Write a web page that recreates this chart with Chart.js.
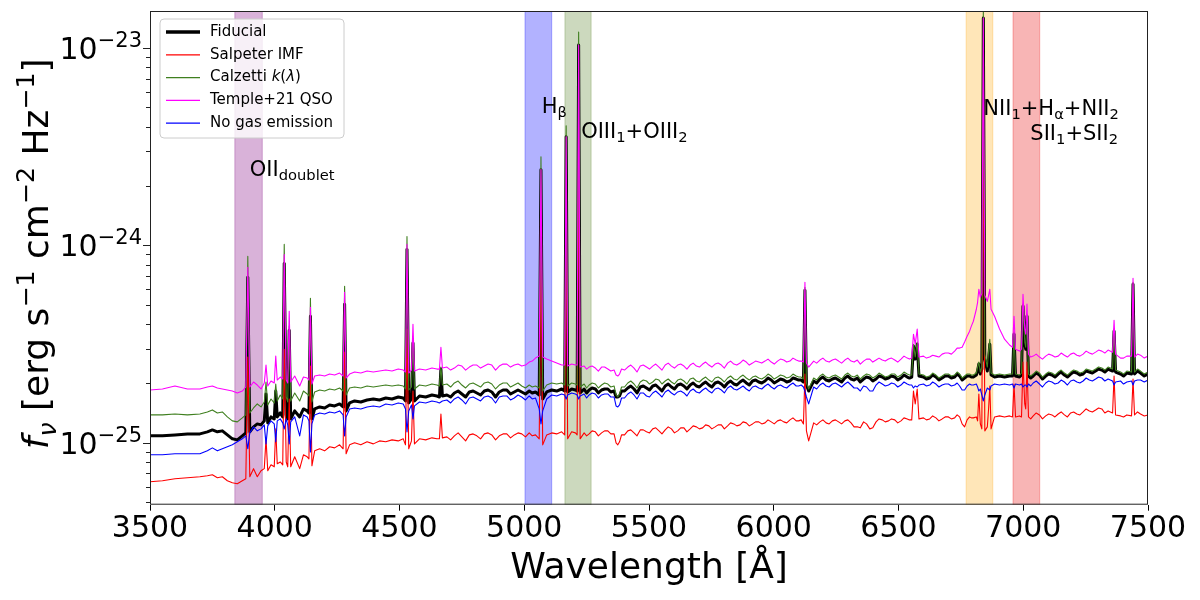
<!DOCTYPE html>
<html>
<head>
<meta charset="utf-8">
<script src="https://cdn.jsdelivr.net/npm/chart.js@4.4.0/dist/chart.umd.min.js"></script>
<style>
  body { margin: 0; background: #fff; }
  #wrap { width: 1200px; height: 600px; }
</style>
</head>
<body>
<div id="wrap"><canvas id="spec" width="1200" height="600"></canvas></div>
<script>
// wavelength grid [Angstrom], shared by every spectrum
const wave = [
  3500,3550,3600,3650,3700,3730,3750,3770,3790,3810,
  3830,3850,3870,3884,3892,3900,3915,3930,3945,3958,
  3965,3972,3985,3998,4004,4010,4022,4032,4038,4046,
  4052,4058,4064,4080,4100,4115,4130,4137,4143,4149,
  4160,4180,4200,4220,4240,4260,4274,4280,4286,4300,
  4320,4345,4370,4395,4420,4445,4470,4495,4515,4524,
  4530,4537,4548,4554,4560,4580,4605,4630,4650,4660,
  4666,4672,4690,4720,4750,4780,4810,4840,4870,4900,
  4930,4960,4990,5020,5045,5060,5067,5074,5090,5110,
  5130,5150,5162,5168,5174,5190,5205,5212,5218,5224,
  5240,5260,5285,5310,5335,5360,5375,5390,5415,5440,
  5465,5490,5515,5540,5565,5590,5615,5640,5665,5690,
  5715,5740,5765,5790,5815,5840,5865,5890,5915,5940,
  5965,5990,6015,6040,6065,6090,6110,6119,6125,6131,
  6140,6160,6185,6210,6235,6260,6285,6310,6335,6360,
  6385,6410,6435,6460,6485,6510,6535,6553,6560,6567,
  6575,6582,6600,6625,6650,6675,6700,6725,6745,6765,
  6785,6800,6812,6817,6822,6828,6834,6840,6846,6856,
  6861,6866,6871,6885,6905,6925,6945,6957,6963,6969,
  6985,6993,6999,7006,7010,7015,7021,7040,7065,7090,
  7115,7140,7165,7190,7215,7240,7265,7290,7315,7340,
  7358,7364,7370,7390,7415,7434,7440,7446,7470,7500
];

// f_nu in units of 1e-25 erg s^-1 cm^-2 Hz^-1
const fiducial = [
  1.085,1.085,1.097,1.11,1.11,1.137,1.163,1.137,1.15,1.097,
  1.048,1.035,1.085,1.123,6.89,1.137,1.205,1.247,1.233,1.292,
  1.768,1.262,1.353,1.322,1.83,1.353,1.417,1.353,8.11,1.385,
  1.322,3.72,1.322,1.451,1.353,1.485,1.451,1.417,4.38,1.322,
  1.485,1.52,1.502,1.556,1.538,1.574,1.52,5.04,1.451,1.592,
  1.63,1.611,1.649,1.668,1.649,1.687,1.668,1.707,1.687,1.63,
  9.55,1.592,1.668,3.2,1.63,1.727,1.707,1.748,1.727,1.707,
  2.364,1.727,1.748,1.789,1.768,1.81,1.789,1.83,1.81,1.81,
  1.852,1.81,1.81,1.83,1.81,1.748,24.2,1.668,1.81,1.852,
  1.83,1.874,1.83,35.5,1.81,1.874,1.852,1.83,103.6,1.789,
  1.874,1.852,1.874,1.852,1.874,1.83,1.707,1.83,1.896,1.874,
  1.918,1.896,1.941,1.896,1.941,1.918,1.963,1.941,1.963,1.941,
  1.986,1.963,2.01,1.986,2.01,1.986,2.033,2.01,2.057,2.033,
  2.057,2.08,2.057,2.08,2.057,2.105,2.08,2.033,5.93,1.963,
  1.83,2.057,2.105,2.08,2.105,2.08,2.13,2.105,2.13,2.105,
  2.13,2.105,2.154,2.13,2.154,2.13,2.154,2.154,3.09,2.656,
  3.16,2.18,2.154,2.13,2.154,2.13,2.18,2.154,2.18,2.13,
  2.18,2.154,2.205,2.31,2.506,2.231,2.364,141.8,2.656,2.31,
  2.656,3.16,2.205,2.154,2.18,2.154,2.18,2.18,3.55,2.18,
  2.154,2.205,4.92,3.16,2.98,4.38,2.18,2.18,2.205,2.18,
  2.205,2.231,2.205,2.231,2.257,2.231,2.284,2.31,2.337,2.364,
  2.31,3.68,2.284,2.231,2.257,2.231,6.35,2.231,2.257,2.231
];

const salpeter = [
  0.635,0.643,0.658,0.666,0.673,0.681,0.689,0.666,0.673,0.643,
  0.628,0.621,0.643,0.658,2.72,0.673,0.74,0.673,0.722,0.74,
  1.048,0.722,0.774,0.756,1.177,0.783,0.80,0.774,2.98,0.80,
  0.756,1.668,0.756,0.85,0.74,0.87,0.85,0.83,2.448,0.765,
  0.911,0.933,0.911,0.955,0.943,0.977,0.933,2.88,0.88,0.977,
  1.0,0.977,1.012,0.988,1.023,1.012,1.035,1.023,1.048,0.977,
  3.77,0.933,1.023,1.83,0.988,1.048,1.035,1.06,1.048,1.048,
  1.40,1.06,1.072,1.085,1.072,1.097,1.085,1.11,1.097,1.085,
  1.11,1.097,1.11,1.123,1.097,1.048,9.55,0.977,1.097,1.123,
  1.11,1.137,1.097,14.3,1.048,1.137,1.123,1.097,40.8,1.048,
  1.123,1.11,1.137,1.123,1.15,1.11,0.977,1.097,1.15,1.123,
  1.163,1.137,1.177,1.15,1.163,1.177,1.15,1.191,1.177,1.205,
  1.191,1.219,1.205,1.233,1.219,1.247,1.233,1.262,1.247,1.277,
  1.262,1.277,1.292,1.277,1.307,1.292,1.307,1.247,2.231,1.15,
  1.023,1.262,1.277,1.262,1.292,1.277,1.292,1.262,1.205,1.277,
  1.177,1.277,1.307,1.292,1.307,1.292,1.322,1.307,1.83,1.574,
  1.874,1.322,1.338,1.322,1.338,1.322,1.353,1.338,1.353,1.205,
  1.353,1.338,1.353,1.292,1.768,1.247,1.177,54.6,1.15,1.205,
  1.485,1.941,1.177,1.353,1.369,1.353,1.369,1.353,1.986,1.353,
  1.369,1.353,2.565,1.574,1.485,2.565,1.353,1.369,1.385,1.369,
  1.385,1.40,1.385,1.417,1.40,1.434,1.451,1.468,1.485,1.451,
  1.417,2.18,1.385,1.369,1.385,1.369,2.105,1.385,1.40,1.385
];

const calzetti = [
  1.385,1.385,1.40,1.385,1.40,1.434,1.468,1.417,1.434,1.353,
  1.292,1.277,1.338,1.385,8.8,1.417,1.502,1.574,1.52,1.611,
  2.033,1.556,1.668,1.592,1.986,1.63,1.748,1.668,10.12,1.707,
  1.611,3.9,1.63,1.789,1.63,1.83,1.768,1.727,5.4,1.611,
  1.81,1.852,1.83,1.874,1.852,1.896,1.83,6.21,1.748,1.896,
  1.918,1.896,1.941,1.918,1.941,1.963,1.941,1.963,1.941,1.874,
  11.1,1.852,1.918,3.24,1.874,1.963,1.941,1.986,1.963,1.941,
  2.42,1.963,1.986,2.01,1.963,1.986,1.963,2.01,1.986,1.963,
  2.01,1.963,1.941,1.963,1.941,1.896,28.15,1.83,1.963,2.01,
  1.986,2.01,1.963,40.4,1.941,2.01,1.986,1.963,120.4,1.918,
  1.986,1.963,1.986,1.963,1.986,1.941,1.707,1.918,2.01,1.986,
  2.033,2.057,2.033,2.08,2.057,2.033,2.08,2.057,2.105,2.057,
  2.105,2.08,2.13,2.105,2.13,2.105,2.154,2.13,2.154,2.13,
  2.154,2.18,2.154,2.18,2.154,2.18,2.154,2.105,6.14,2.01,
  1.874,2.13,2.18,2.154,2.18,2.154,2.205,2.18,2.205,2.18,
  2.205,2.18,2.205,2.18,2.231,2.205,2.231,2.205,3.16,2.72,
  3.24,2.231,2.205,2.18,2.205,2.18,2.231,2.205,2.231,2.18,
  2.231,2.205,2.257,2.42,2.565,2.284,2.42,153.8,2.815,2.42,
  2.915,3.35,2.257,2.205,2.231,2.205,2.231,2.231,3.64,2.231,
  2.205,2.257,5.04,3.24,3.05,4.48,2.231,2.231,2.257,2.231,
  2.257,2.284,2.257,2.284,2.31,2.284,2.337,2.364,2.392,2.42,
  2.364,3.77,2.337,2.284,2.31,2.284,6.5,2.284,2.31,2.284
];

const templeQso = [
  1.852,1.874,1.941,1.874,1.874,1.918,1.941,1.896,1.874,1.852,
  1.83,1.789,1.83,1.918,7.74,1.918,2.033,1.963,1.874,2.01,
  2.477,1.941,2.057,2.01,2.75,2.08,2.154,2.105,9.0,2.08,
  2.01,4.64,2.033,2.18,1.941,2.154,2.13,2.08,4.86,1.986,
  2.18,2.205,2.18,2.231,2.205,2.257,2.18,5.79,2.13,2.231,
  2.284,2.257,2.31,2.284,2.31,2.337,2.31,2.364,2.337,2.284,
  10.12,2.257,2.337,3.99,2.31,2.364,2.337,2.392,2.364,2.364,
  3.05,2.392,2.42,2.392,2.448,2.42,2.477,2.448,2.477,2.448,
  2.506,2.477,2.448,2.565,2.687,2.75,24.2,2.72,2.656,2.595,
  2.535,2.477,2.477,35.5,2.448,2.506,2.477,2.477,103.6,2.42,
  2.448,2.42,2.392,2.42,2.364,2.337,2.18,2.364,2.42,2.392,
  2.448,2.42,2.448,2.42,2.477,2.448,2.477,2.448,2.477,2.448,
  2.506,2.477,2.506,2.477,2.535,2.506,2.535,2.565,2.535,2.565,
  2.595,2.565,2.595,2.626,2.595,2.626,2.595,2.565,6.5,2.535,
  2.42,2.595,2.626,2.595,2.626,2.595,2.626,2.595,2.626,2.595,
  2.656,2.626,2.626,2.656,2.626,2.656,2.687,2.687,3.55,3.16,
  3.77,2.72,2.75,2.72,2.75,2.815,2.85,2.915,3.02,3.24,
  3.68,4.13,4.75,5.15,6.0,5.46,5.72,141.8,5.59,5.21,
  5.59,6.0,4.75,4.38,3.77,3.35,3.13,3.05,4.38,2.98,
  2.915,2.98,5.66,3.77,3.55,5.04,2.815,2.75,2.72,2.75,
  2.78,2.75,2.78,2.815,2.78,2.815,2.85,2.88,2.915,2.95,
  2.88,4.18,2.815,2.687,2.75,2.75,6.82,2.72,2.78,2.75
];

const noGas = [
  0.87,0.87,0.88,0.88,0.88,0.911,0.943,0.911,0.933,0.955,
  0.977,1.012,1.048,1.085,0.933,1.123,1.205,1.15,1.177,1.233,
  0.988,1.219,1.292,1.247,1.012,1.292,1.322,1.262,1.177,1.322,
  1.233,0.988,1.277,1.353,1.085,1.385,1.353,1.292,0.90,1.247,
  1.385,1.417,1.40,1.434,1.417,1.451,1.385,1.085,1.353,1.485,
  1.502,1.485,1.52,1.538,1.52,1.574,1.556,1.592,1.574,1.485,
  1.137,1.451,1.556,1.322,1.538,1.611,1.592,1.63,1.611,1.592,
  1.611,1.63,1.649,1.668,1.649,1.687,1.668,1.707,1.687,1.707,
  1.727,1.687,1.707,1.727,1.687,1.485,1.247,1.451,1.668,1.748,
  1.727,1.768,1.748,1.668,1.748,1.789,1.768,1.748,1.668,1.727,
  1.768,1.748,1.768,1.748,1.768,1.707,1.52,1.687,1.768,1.748,
  1.789,1.727,1.789,1.768,1.81,1.789,1.81,1.789,1.83,1.81,
  1.852,1.83,1.874,1.852,1.896,1.874,1.896,1.874,1.918,1.896,
  1.941,1.918,1.941,1.918,1.963,1.941,1.963,1.918,1.83,1.707,
  1.574,1.918,1.963,1.941,1.986,1.963,1.986,1.963,1.896,1.941,
  1.83,1.963,1.986,1.963,1.986,1.963,1.986,1.963,1.896,1.941,
  1.918,1.963,1.986,1.963,1.986,1.963,1.986,1.963,1.941,1.852,
  1.986,1.963,1.986,1.918,1.83,1.874,1.748,1.63,1.748,1.896,
  1.874,1.852,1.941,1.986,1.963,1.986,1.963,1.986,1.896,1.986,
  1.963,1.986,1.918,1.963,1.963,1.918,1.986,2.01,1.986,2.01,
  2.033,2.01,2.033,2.057,2.033,2.057,2.08,2.105,2.13,2.105,
  2.057,1.963,2.033,2.057,2.033,2.057,1.963,2.057,2.08,2.08
];

// extra readings of the noisy continuum between the points above
const wave2 = [
  4705,4735,4765,4795,4825,4855,4885,4915,4945,4975,5005,5032,
  5250,5272,5297,5322,5347,5368,5382,5402,5427,5452,5477,5502,
  5527,5552,5577,5602,5627,5652,5677,5702,5727,5752,5777,5802,
  5827,5852,5877,5902,5927,5952,5977,6002,6027,6052,6077,6100,
  6172,6197,6222,6247,6272,6297,6322,6347,6372,6397,6422,6447,6472,6497,6522,6544,
  6612,6637,6662,6687,6712,6735,6755,6775,6792,
  7030,7052,7077,7102,7127,7152,7177,7202,7227,7252,7277,7302,7327,
  7402,7458,7485
];

const fiducial2 = [
  1.707,1.83,1.707,1.83,1.748,1.852,1.707,1.852,1.768,1.852,1.768,1.789,
  1.789,1.896,1.789,1.874,1.81,1.707,1.727,1.83,1.941,1.789,1.941,1.852,
  1.963,1.83,1.986,1.874,1.986,1.874,2.01,1.918,2.033,1.918,2.033,1.918,
  2.057,1.963,2.08,1.963,2.08,2.01,2.13,2.01,2.105,2.033,2.13,2.08,
  2.01,2.154,2.057,2.13,2.033,2.18,2.08,2.033,2.154,2.057,2.18,2.105,2.18,2.08,2.205,2.13,
  2.105,2.205,2.08,2.18,2.13,2.231,2.08,2.18,2.154,
  2.13,2.257,2.105,2.231,2.154,2.284,2.154,2.284,2.205,2.31,2.257,2.364,2.284,
  2.18,2.31,2.18
];

const salpeter2 = [
  1.035,1.123,1.023,1.11,1.048,1.123,1.035,1.11,1.06,1.123,1.072,1.085,
  1.085,1.15,1.085,1.15,1.11,1.0,1.012,1.097,1.163,1.085,1.163,1.123,
  1.191,1.11,1.205,1.123,1.191,1.137,1.219,1.177,1.233,1.177,1.233,1.177,
  1.262,1.219,1.277,1.219,1.277,1.247,1.307,1.247,1.307,1.262,1.338,1.292,
  1.233,1.307,1.247,1.307,1.247,1.307,1.205,1.191,1.247,1.191,1.322,1.277,1.322,1.262,1.338,1.307,
  1.307,1.369,1.292,1.353,1.322,1.385,1.247,1.307,1.338,
  1.322,1.417,1.322,1.40,1.353,1.434,1.353,1.434,1.385,1.485,1.434,1.502,1.417,
  1.353,1.434,1.369
];

const calzetti2 = [
  1.918,2.057,1.896,2.01,1.918,2.033,1.874,2.01,1.918,2.01,1.896,1.918,
  1.896,2.01,1.896,2.01,1.918,1.748,1.768,1.918,2.057,1.896,2.08,1.986,
  2.105,1.986,2.105,1.986,2.105,1.986,2.13,2.033,2.154,2.033,2.154,2.033,
  2.18,2.08,2.205,2.08,2.18,2.105,2.231,2.105,2.205,2.13,2.231,2.154,
  2.08,2.231,2.13,2.205,2.105,2.257,2.154,2.105,2.231,2.13,2.257,2.154,2.231,2.154,2.284,2.205,
  2.154,2.257,2.13,2.231,2.18,2.284,2.13,2.231,2.205,
  2.18,2.31,2.154,2.284,2.205,2.337,2.205,2.337,2.257,2.364,2.31,2.42,2.337,
  2.231,2.364,2.231
];

const templeQso2 = [
  2.337,2.477,2.337,2.477,2.392,2.506,2.337,2.506,2.42,2.506,2.477,2.595,
  2.364,2.448,2.31,2.42,2.31,2.205,2.231,2.337,2.477,2.284,2.477,2.364,
  2.506,2.337,2.535,2.392,2.506,2.364,2.535,2.42,2.565,2.42,2.535,2.392,
  2.595,2.477,2.626,2.477,2.595,2.535,2.656,2.506,2.656,2.565,2.687,2.595,
  2.535,2.687,2.565,2.656,2.535,2.687,2.565,2.506,2.656,2.565,2.687,2.595,2.687,2.565,2.75,2.656,
  2.687,2.78,2.72,2.85,2.815,3.02,3.05,3.47,3.9,
  2.72,2.815,2.656,2.815,2.72,2.85,2.72,2.85,2.75,2.915,2.815,2.95,2.85,
  2.687,2.815,2.687
];

const noGas2 = [
  1.592,1.707,1.574,1.707,1.63,1.727,1.592,1.727,1.649,1.748,1.649,1.668,
  1.687,1.789,1.687,1.768,1.707,1.538,1.556,1.687,1.81,1.668,1.789,1.707,
  1.83,1.707,1.852,1.748,1.83,1.727,1.874,1.789,1.896,1.789,1.896,1.789,
  1.941,1.852,1.941,1.83,1.941,1.874,1.986,1.874,1.963,1.896,2.01,1.941,
  1.874,2.01,1.918,2.01,1.918,2.033,1.896,1.83,1.918,1.83,2.033,1.941,2.01,1.918,2.033,1.963,
  1.941,2.033,1.918,1.986,1.941,2.01,1.852,1.941,1.963,
  1.941,2.057,1.918,2.057,1.986,2.08,1.963,2.08,2.01,2.13,2.057,2.154,2.057,
  1.986,2.08,2.033
];

const seriesNames = ["Fiducial", "Salpeter IMF", "Calzetti k(λ)", "Temple+21 QSO", "No gas emission"];

// highlighted line windows [Angstrom]
const bandStart = [3840, 5003, 5163, 6771, 6959];
const bandEnd = [3950, 5110, 5268, 6878, 7066];

// y axis decades (flux units of 1e-25) and their exponents
const yMajor = [1, 10, 100];
const yMajorExp = ["−25", "−24", "−23"];

const yMin = 0.486, yMax = 154;

// styles
const seriesColors = ["#000000", "#ff0000", "#3f7f1f", "#ff00ff", "#0000ff"];
const seriesWidths = [3, 1.1, 1.1, 1.1, 1.1];
const bandColors = ["rgba(128,0,128,0.3)", "rgba(0,0,255,0.3)", "rgba(85,130,40,0.3)",
                    "rgba(255,165,0,0.28)", "rgba(235,30,30,0.33)"];
const FONT = "'DejaVu Sans', sans-serif";

// text with mathtext-like sub/superscripts: runs of [text, kind]
function drawRuns(ctx, runs, x, y, size, align) {
  const fontFor = (k) => {
    let s = size;
    if (k.includes("sub") || k.includes("sup")) s = size * 0.7;
    return (k.includes("it") ? "italic " : "") + s + "px " + FONT;
  };
  let w = 0;
  runs.forEach(r => { ctx.font = fontFor(r[1]); w += ctx.measureText(r[0]).width; });
  let cx = align === "right" ? x - w : align === "center" ? x - w / 2 : x;
  runs.forEach(r => {
    ctx.font = fontFor(r[1]);
    let dy = 0;
    if (r[1].includes("sub")) dy = size * 0.22;
    if (r[1].includes("sup")) dy = -size * 0.4;
    ctx.fillText(r[0], cx, y + dy);
    cx += ctx.measureText(r[0]).width;
  });
  return w;
}

const lineLabels = [
  { x: 3900, y: 22.6, align: "left", runs: [["OII", ""], ["doublet", "sub"]] },
  { x: 5070, y: 47, align: "left", runs: [["H", ""], ["β", "sub"]] },
  { x: 5228, y: 35.1, align: "left", runs: [["OIII", ""], ["1", "sub"], ["+OIII", ""], ["2", "sub"]] },
  { x: 6840, y: 45.9, align: "left", runs: [["NII", ""], ["1", "sub"], ["+H", ""], ["α", "sub"], ["+NII", ""], ["2", "sub"]] },
  { x: 7380, y: 34.3, align: "right", runs: [["SII", ""], ["1", "sub"], ["+SII", ""], ["2", "sub"]] }
];

const legendRuns = [
  [["Fiducial", ""]],
  [["Salpeter IMF", ""]],
  [["Calzetti ", ""], ["k", "it"], ["(", ""], ["λ", "it"], [")", ""]],
  [["Temple+21 QSO", ""]],
  [["No gas emission", ""]]
];

const decorPlugin = {
  id: "specDecor",
  beforeDatasetsDraw(chart) {
    const { ctx, chartArea: a, scales: { x } } = chart;
    ctx.save();
    ctx.beginPath();
    ctx.rect(a.left, a.top, a.right - a.left, a.bottom - a.top);
    ctx.clip();
    bandStart.forEach((s, i) => {
      const x0 = x.getPixelForValue(s), x1 = x.getPixelForValue(bandEnd[i]);
      ctx.fillStyle = bandColors[i];
      ctx.fillRect(x0, a.top, x1 - x0, a.bottom - a.top);
      ctx.strokeStyle = bandColors[i];
      ctx.lineWidth = 1;
      ctx.strokeRect(x0, a.top, x1 - x0, a.bottom - a.top);
    });
    ctx.restore();
  },
  afterDatasetsDraw(chart) {
    const { ctx, scales: { x, y } } = chart;
    ctx.save();
    ctx.fillStyle = "#000";
    ctx.textBaseline = "alphabetic";
    lineLabels.forEach(l => {
      drawRuns(ctx, l.runs, x.getPixelForValue(l.x), y.getPixelForValue(l.y), 21, l.align);
    });
    ctx.restore();
  },
  afterDraw(chart) {
    const { ctx, chartArea: a, scales: { y } } = chart;
    ctx.save();
    // frame
    ctx.strokeStyle = "#222";
    ctx.lineWidth = 1;
    ctx.strokeRect(a.left + 0.5, a.top + 0.5, a.right - a.left - 1, a.bottom - a.top - 1);

    // y ticks: majors and minors
    ctx.beginPath();
    for (let d = 0.1; d <= 100; d *= 10) {
      for (let m = 1; m <= 9; m++) {
        const v = d * m;
        if (v < yMin || v > yMax) continue;
        const py = Math.round(y.getPixelForValue(v)) + 0.5;
        const len = m === 1 ? 7 : 4;
        ctx.moveTo(a.left, py);
        ctx.lineTo(a.left - len, py);
      }
    }
    ctx.stroke();

    // y tick labels 10^-n
    ctx.fillStyle = "#000";
    ctx.textBaseline = "alphabetic";
    yMajor.forEach((v, i) => {
      const py = y.getPixelForValue(v);
      drawRuns(ctx, [["10", ""], [yMajorExp[i], "sup"]], a.left - 8, py + 11, 30, "right");
    });

    // y title
    ctx.save();
    ctx.translate(48, (a.top + a.bottom) / 2 - 4);
    ctx.rotate(-Math.PI / 2);
    drawRuns(ctx, [["f", "it"], ["ν", "itsub"], [" [erg s", ""], ["−1", "sup"], [" cm", ""], ["−2", "sup"],
                   [" Hz", ""], ["−1", "sup"], ["]", ""]], 0, 0, 36, "center");
    ctx.restore();

    // legend
    const lx = a.left + 10, ly = a.top + 8, lw = 184, lh = 119;
    ctx.beginPath();
    ctx.roundRect(lx, ly, lw, lh, 4);
    ctx.fillStyle = "rgba(255,255,255,0.8)";
    ctx.fill();
    ctx.strokeStyle = "#cccccc";
    ctx.lineWidth = 1;
    ctx.stroke();
    ctx.textBaseline = "middle";
    seriesNames.forEach((n, i) => {
      const ry = ly + 13 + i * 22.8;
      ctx.beginPath();
      ctx.moveTo(lx + 6, ry);
      ctx.lineTo(lx + 40, ry);
      ctx.strokeStyle = seriesColors[i];
      ctx.lineWidth = i === 0 ? 3.5 : 1.3;
      ctx.stroke();
      ctx.fillStyle = "#000";
      drawRuns(ctx, legendRuns[i], lx + 50, ry, 15, "left");
    });
    ctx.restore();
  }
};

const fluxSets = [fiducial, salpeter, calzetti, templeQso, noGas];
const fluxSets2 = [fiducial2, salpeter2, calzetti2, templeQso2, noGas2];
const toPoints = (xs, ys) => xs.map((w, j) => ({ x: w, y: ys[j] }));

new Chart(document.getElementById("spec"), {
  type: "line",
  data: {
    datasets: fluxSets.map((f, i) => ({
      label: seriesNames[i],
      data: toPoints(wave, f).concat(toPoints(wave2, fluxSets2[i])).sort((p, q) => p.x - q.x),
      borderColor: seriesColors[i],
      borderWidth: seriesWidths[i],
      borderJoinStyle: "round",
      pointRadius: 0,
      tension: 0,
      fill: false,
      order: 5 - i
    }))
  },
  options: {
    responsive: false,
    animation: false,
    layout: { padding: { left: 150, right: 52, top: 11, bottom: 10 } },
    plugins: {
      legend: { display: false },
      tooltip: { enabled: false }
    },
    scales: {
      x: {
        type: "linear",
        min: 3500,
        max: 7500,
        grid: { display: true, drawOnChartArea: false, drawTicks: true, tickLength: 6, color: "#000" },
        border: { display: false },
        ticks: {
          stepSize: 500,
          maxRotation: 0,
          color: "#000",
          padding: 2,
          font: { family: FONT, size: 30, lineHeight: 1.07 },
          callback: (v) => String(v)
        },
        title: {
          display: true,
          text: "Wavelength [Å]",
          color: "#000",
          font: { family: FONT, size: 36 },
          padding: { top: 0, bottom: 0 }
        }
      },
      y: {
        type: "logarithmic",
        display: false,
        min: yMin,
        max: yMax
      }
    }
  },
  plugins: [decorPlugin]
});
</script>
</body>
</html>
